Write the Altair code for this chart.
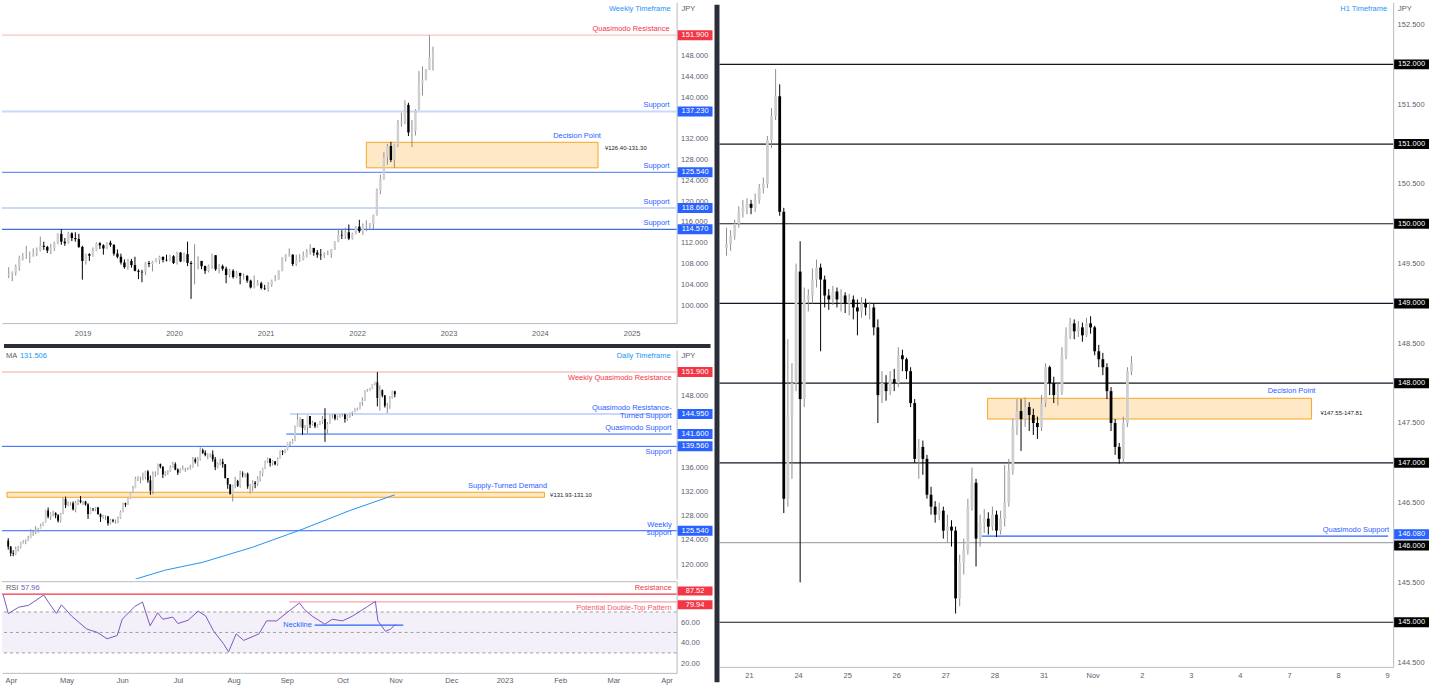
import json
import altair as alt
import pandas as pd

# ------------------------------------------------------------------ data
# Weekly panel: two-week USD/JPY candles starting 5 Mar 2018
wk_start = "2018-03-05"
wk_first_open = 105.8
wk_close = [106.0,106.3,107.4,109.0,109.4,109.4,109.5,110.0,110.5,111.4,
            111.2,110.5,111.0,112.0,113.7,112.2,111.9,113.8,112.9,112.7,
            111.2,108.5,109.8,109.5,110.5,111.9,111.5,110.9,112.0,111.6,
            109.9,109.3,108.2,107.3,108.5,107.7,106.6,106.4,106.3,108.1,
            107.9,108.3,108.7,109.3,108.7,108.6,109.4,108.1,110.1,108.4,
            109.8,108.1,107.9,107.9,108.5,107.5,106.6,107.6,109.6,106.9,
            107.5,107.0,105.8,106.6,105.4,106.2,105.6,105.6,104.7,103.4,
            103.8,104.2,103.3,103.2,103.9,104.7,104.9,106.6,109.0,109.6,
            109.7,107.9,108.6,108.9,109.5,110.2,111.0,110.1,109.7,109.6,
            109.8,109.9,110.7,112.2,113.5,113.4,114.0,112.8,113.7,115.1,
            114.2,115.2,115.4,115.6,117.3,122.0,124.3,128.5,130.6,127.9,
            130.9,135.0,135.2,138.5,133.2,133.5,137.5,142.6,143.3,145.3,
            147.6,148.2]
wk_high = [107.3,106.5,107.8,109.5,110.0,111.4,110.3,110.9,111.1,113.2,
           112.2,111.4,111.8,112.2,113.8,114.6,112.9,114.1,114.0,114.0,
           113.7,111.4,109.9,110.0,111.1,112.1,112.1,111.7,112.1,112.4,
           111.7,110.7,109.9,108.8,108.9,108.9,109.3,106.9,106.8,108.3,
           108.5,108.5,109.0,109.5,109.3,109.7,109.7,109.6,110.3,110.2,
           110.1,112.2,108.5,111.7,109.4,108.1,107.6,107.8,109.9,109.6,
           107.9,107.8,107.4,107.0,106.9,106.6,106.0,106.1,105.8,104.9,
           105.7,104.8,104.5,103.9,104.4,104.9,105.8,106.7,109.2,109.8,
           110.9,109.8,109.7,109.8,110.3,110.8,111.7,111.0,110.6,110.8,
           110.2,110.5,110.8,112.3,114.7,114.4,114.9,115.5,113.9,115.2,
           116.4,115.7,116.3,115.8,117.4,122.4,125.1,129.4,131.0,131.4,
           131.0,135.6,137.0,139.4,138.9,135.6,137.7,145.0,145.9,145.4,
           151.9,149.7]
wk_low = [105.2,104.6,105.7,106.6,108.6,108.9,108.1,109.3,109.4,110.3,
          110.6,110.0,109.8,110.4,111.7,111.6,111.4,111.8,112.3,112.2,
          111.0,104.9,107.8,108.5,109.3,110.4,110.8,109.7,110.8,111.2,
          109.5,109.0,107.8,107.0,106.8,107.2,106.5,105.0,104.4,105.8,
          107.3,106.5,108.2,107.9,108.2,108.4,108.4,107.9,107.8,108.3,
          108.3,107.5,101.2,104.0,106.9,106.9,106.0,106.3,107.0,106.6,
          106.1,106.6,104.2,105.3,105.1,105.2,104.0,104.9,104.3,103.2,
          103.2,103.7,103.0,102.9,102.6,103.5,104.6,104.9,106.5,108.4,
          109.3,107.5,107.5,108.3,108.6,109.2,109.7,109.5,109.1,108.7,
          109.1,109.6,109.1,110.6,112.1,112.7,112.7,112.5,112.6,113.6,
          113.9,113.5,114.2,114.4,114.6,117.2,121.3,124.1,127.0,127.5,
          126.4,130.4,134.3,134.8,132.5,130.4,132.6,137.5,140.3,143.2,
          145.2,145.1]
wk_year_ticks = [2019, 2020, 2021, 2022, 2023, 2024, 2025]
wk_price_ticks = [100, 104, 108, 112, 116, 120, 124, 128, 132, 140, 144, 148]

# Daily panel: bar index -3 (29 Mar 2022) .. 152 (1 Nov 2022)
d_first_open = 123.9
d_close = [122.9,121.8,121.7,
           122.5,122.8,123.6,123.8,123.9,124.3,125.4,125.4,125.6,125.9,126.4,126.9,128.9,127.9,128.4,128.5,128.1,127.2,128.4,130.8,129.8,
           130.1,130.1,129.1,130.2,130.6,130.3,130.4,129.9,128.3,129.2,129.1,129.4,128.3,127.8,127.9,127.9,126.8,127.3,127.1,127.1,127.6,128.7,
           130.1,129.9,130.9,131.9,132.6,134.2,134.4,134.4,134.4,135.4,133.9,132.2,135.0,135.1,136.6,136.2,134.9,135.2,135.4,136.1,136.6,135.7,
           135.2,135.7,135.9,135.9,136.0,136.1,137.4,137.0,137.4,138.9,138.5,138.1,138.2,138.2,137.4,136.1,136.7,137.0,136.6,134.3,133.2,
           131.6,133.1,133.8,133.0,135.0,134.9,135.0,132.9,133.0,133.5,133.3,134.2,135.1,135.9,137.0,137.5,136.8,137.1,136.6,137.5,138.8,138.7,139.0,
           140.2,140.2,140.5,142.8,144.0,144.1,142.6,142.8,144.6,143.2,143.5,142.9,143.2,143.7,144.1,142.4,143.3,144.7,144.8,144.2,144.5,144.7,
           144.8,144.1,144.6,145.1,145.3,145.7,145.8,146.9,147.2,148.7,148.9,149.2,149.9,150.2,147.6,148.9,148.0,146.3,146.3,147.5,148.7,
           148.2]
d_high = [124.3,123.0,122.3,
          122.9,123.0,123.7,124.0,124.1,124.7,125.8,125.6,126.3,126.0,126.7,127.0,129.0,129.4,128.6,128.9,128.6,128.3,128.5,131.0,131.2,
          130.4,130.3,130.4,130.5,130.8,131.3,130.5,130.5,130.1,129.4,129.3,129.5,129.5,128.4,128.2,128.1,128.0,127.5,127.5,127.4,127.9,128.9,
          130.2,130.2,131.0,132.0,133.0,134.5,134.6,134.5,135.2,135.5,135.6,134.7,135.4,135.4,136.7,136.7,136.2,135.4,135.6,136.4,137.0,136.9,
          135.9,135.9,136.4,136.0,136.1,136.5,137.8,137.7,137.8,139.4,139.2,138.9,138.4,138.4,138.9,137.8,136.9,137.5,137.5,136.6,134.3,
          133.3,133.2,134.5,134.0,135.5,135.4,135.1,135.2,133.3,133.9,133.8,134.6,135.5,136.0,137.2,137.7,137.6,137.3,137.1,137.7,138.9,138.9,139.1,
          140.2,140.4,140.8,143.0,145.0,144.4,144.0,143.1,144.7,144.6,143.8,143.6,143.3,143.8,144.6,145.9,143.6,144.8,144.9,144.9,144.7,144.9,
          145.0,145.0,144.8,145.2,145.4,145.9,146.0,146.9,147.7,148.9,149.1,149.3,149.9,150.3,151.9,149.7,149.0,148.1,146.8,147.9,148.8,
          148.8]
d_low = [122.4,121.3,121.3,
         121.5,122.1,122.6,123.4,123.3,123.8,124.3,124.7,125.0,125.2,125.9,126.3,126.9,127.6,127.3,127.9,127.6,126.9,126.9,128.3,129.3,
         129.6,129.7,128.9,128.6,129.8,130.1,129.8,129.7,127.5,128.4,128.8,128.8,128.2,127.0,127.5,127.3,126.4,126.6,126.9,126.7,126.8,127.5,
         128.6,129.5,129.8,130.8,131.8,132.6,133.8,133.4,133.9,134.1,133.5,131.5,131.6,134.5,134.8,135.9,134.3,134.6,134.8,135.3,136.0,135.6,
         134.8,135.1,135.6,135.3,135.6,135.7,136.0,136.7,136.2,137.2,138.3,137.9,137.4,137.7,137.0,135.6,135.9,136.4,136.0,134.2,132.5,
         131.6,130.4,132.6,132.8,132.7,134.4,134.4,132.5,131.7,132.1,132.6,133.0,133.7,134.6,135.8,136.8,136.2,136.4,136.4,136.3,137.6,138.1,138.4,
         138.9,139.6,140.0,140.4,142.8,142.8,141.5,142.2,141.7,142.6,143.0,142.6,142.7,143.1,143.3,140.3,141.7,143.3,144.2,143.9,143.9,144.3,
         144.5,143.5,143.8,144.3,144.6,145.2,145.5,145.7,146.3,147.1,148.6,148.8,149.1,149.7,146.2,145.5,147.7,146.0,145.1,145.8,147.5,
         147.7]
d_price_ticks = [120, 124, 128, 132, 136, 148]
ma_n = [48, 60, 75, 95, 115, 134, 152]
ma_v = [117.5, 119.0, 120.3, 122.8, 125.8, 128.9, 131.506]
month_ticks = [0, 22, 44, 66, 88, 109, 131, 152, 174, 195, 217, 238, 259]
month_labels = ["Apr", "May", "Jun", "Jul", "Aug", "Sep", "Oct", "Nov", "Dec", "2023", "Feb", "Mar", "Apr"]

# RSI(14) sub-panel
rsi_n = [-3, -1, 3, 7, 13, 15, 18, 20, 24, 30, 34, 38, 42, 44, 49, 52, 55, 58, 60, 64, 66, 70, 74,
         77, 80, 84, 86, 89, 92, 98, 101, 105, 109, 114, 116, 119, 124, 127, 131, 135, 141, 144,
         145, 148, 150, 152]
rsi_v = [86.6, 68.3, 74.6, 76.5, 86.6, 79.0, 68.6, 77.0, 66.0, 53.3, 50.2, 43.8, 47.0, 62.9, 75.5,
         79.7, 56.5, 69.2, 62.9, 65.0, 58.7, 61.9, 70.8, 66.0, 51.7, 39.0, 31.0, 48.6, 42.2, 48.6,
         61.3, 61.3, 69.2, 78.8, 72.4, 66.0, 58.1, 62.9, 61.3, 66.0, 75.5, 80.3, 61.3, 51.1, 53.3, 57.96]
rsi_ticks = [20, 40, 60]

# H1 panel: two-hour candles from 20 Oct 12:00 (trading-day index, 21 Oct = 0)
h1_first_open = 149.70
h1_close = [149.75,149.85,150.00,150.15,150.20,150.25,150.20,150.30,150.45,150.50,
            151.05,151.35,151.60,150.15,146.55,147.60,148.00,149.40,147.80,149.05,
            149.10,149.30,149.45,149.30,149.10,149.05,149.15,149.05,149.10,149.00,
            149.05,148.95,148.90,149.00,148.95,148.95,148.70,147.85,148.00,147.90,
            148.05,148.00,148.35,148.30,148.15,147.75,147.05,147.20,147.05,146.60,
            146.45,146.35,146.40,146.15,146.20,146.15,145.30,145.75,145.90,146.45,
            146.75,146.05,146.25,146.30,146.20,146.35,146.15,146.30,146.50,146.90,
            147.45,147.65,147.55,147.70,147.60,147.50,147.45,147.75,148.20,148.00,
            147.85,147.90,148.35,148.60,148.75,148.65,148.70,148.60,148.75,148.70,
            148.40,148.30,148.20,147.90,147.50,147.20,147.05,147.50,148.15,148.25]
h1_high = [149.95,149.92,150.05,150.22,150.30,150.32,150.30,150.38,150.50,150.58,
           151.10,151.45,151.94,151.75,150.20,148.55,148.25,149.50,149.78,149.20,
           149.18,149.44,149.55,149.50,149.35,149.18,149.22,149.20,149.18,149.14,
           149.12,149.10,149.05,149.08,149.06,149.02,149.00,148.80,148.15,148.10,
           148.15,148.18,148.45,148.42,148.32,148.20,147.80,147.30,147.28,147.10,
           146.70,146.52,146.50,146.45,146.35,146.28,146.20,145.85,146.05,146.55,
           146.94,146.80,146.35,146.42,146.38,146.45,146.40,146.40,146.97,147.05,
           147.55,147.80,147.80,147.82,147.76,147.68,147.58,147.85,148.25,148.22,
           148.08,148.00,148.45,148.70,148.82,148.80,148.78,148.76,148.82,148.84,
           148.72,148.48,148.38,148.25,147.95,147.55,147.25,147.58,148.20,148.34]
h1_low = [149.60,149.66,149.80,149.95,150.08,150.12,150.12,150.15,150.25,150.38,
          150.45,150.95,151.30,150.10,146.37,146.45,146.80,147.90,145.50,147.70,
          148.90,149.00,149.20,148.40,148.95,148.92,148.98,148.95,148.90,148.88,
          148.85,148.80,148.60,148.82,148.85,148.80,148.60,147.50,147.75,147.78,
          147.85,147.90,147.95,148.15,148.05,147.70,147.00,146.80,146.85,146.55,
          146.35,146.25,146.28,146.05,146.00,145.95,145.11,145.20,145.60,145.85,
          146.40,145.70,145.95,146.12,146.10,146.15,146.07,146.10,146.20,146.45,
          146.85,147.35,147.15,147.45,147.40,147.35,147.30,147.40,147.70,147.85,
          147.75,147.72,147.85,148.30,148.55,148.55,148.58,148.52,148.58,148.62,
          148.35,148.20,148.10,147.80,147.40,147.10,146.99,147.00,147.45,148.10]
h1_day_labels = ["21", "24", "25", "26", "27", "28", "31", "Nov", "2", "3", "4", "7", "8", "9"]
h1_price_ticks = [144.5, 145.5, 146.5, 147.5, 148.5, 149.5, 150.5, 151.5, 152.5]
h1_black_levels = [152.0, 151.0, 150.0, 149.0, 148.0, 147.0, 145.0]

# ------------------------------------------------------------------ style
FONT = "Liberation Sans Narrow, Liberation Sans, Arial, sans-serif"
FS = 7.5
W = 677          # left plot width
AX_W = 36        # price-axis column
WK_H = 322
D_H = 230
R_H = 92
H1_W = 676
H1_H = 667
UP_BODY = "#cfcfcf"
UP_WICK = "#8f8f8f"
DOWN = "#000000"
BLUE = "#2962ff"
TF_BLUE = "#2196f3"
RED = "#f23645"
PALE_RED = "#f7c3c6"
PALE_BLUE = "#c9d8fb"
SEP = "#2a2e39"
AXIS_LINE = "#b8bbc4"
LABEL = "#5d606b"
ZONE_FILL = "#ffe8c6"
ZONE_LINE = "#f5a623"


def ohlc(first_open, close, high, low, xs):
    opens = [first_open] + list(close[:-1])
    hi = [max(h, o, c) for h, o, c in zip(high, opens, close)]
    lo = [min(l, o, c) for l, o, c in zip(low, opens, close)]
    return pd.DataFrame({"x": xs, "open": opens, "close": close, "high": hi, "low": lo})


def price_axis(values, fmt):
    return alt.Axis(orient="right", values=values, tickCount=len(values) + 2, format=fmt,
                    title=None, ticks=False, grid=False, labelPadding=4,
                    minExtent=AX_W, maxExtent=AX_W, labelOverlap=False, labelBound=False,
                    domainColor=AXIS_LINE, labelColor=LABEL, labelFontSize=FS, labelFont=FONT)


def axis_layer(x0, xtype, xscale, xaxis, y0, yscale, yaxis):
    # invisible anchor layer that carries the panel's axes
    df = pd.DataFrame({"x": [x0], "y": [y0]})
    return alt.Chart(df).mark_point(size=0, opacity=0).encode(
        x=alt.X(f"x:{xtype}", scale=xscale, axis=xaxis),
        y=alt.Y("y:Q", scale=yscale, axis=yaxis))


def candle_layers(df, xtype, xscale, yscale, body):
    up = "datum.close >= datum.open"
    wick = alt.Chart(df).mark_rule(strokeWidth=1).encode(
        x=alt.X(f"x:{xtype}", scale=xscale),
        y=alt.Y("low:Q", scale=yscale),
        y2="high:Q",
        color=alt.condition(up, alt.value(UP_WICK), alt.value(DOWN)),
    )
    bodies = alt.Chart(df).mark_bar(size=body).encode(
        x=alt.X(f"x:{xtype}", scale=xscale),
        y=alt.Y("open:Q", scale=yscale),
        y2="close:Q",
        color=alt.condition(up, alt.value(UP_BODY), alt.value(DOWN)),
    )
    return [wick, bodies]


def hrule(price, color, yscale, width=1.0, x0=None, x1=None, xtype="Q", xscale=None, dash=None):
    df = pd.DataFrame({"p": [price]})
    enc = {"y": alt.Y("p:Q", scale=yscale)}
    if x0 is not None:
        df["a"] = [x0]
        df["b"] = [x1]
        enc["x"] = alt.X(f"a:{xtype}", scale=xscale)
        enc["x2"] = alt.X2("b")
    kw = {"color": color, "strokeWidth": width}
    if dash is not None:
        kw["strokeDash"] = dash
    return alt.Chart(df).mark_rule(**kw).encode(**enc)


def zone(lo, hi, x0, x1, xtype, xscale, yscale):
    df = pd.DataFrame({"lo": [lo], "hi": [hi], "a": [x0], "b": [x1]})
    return alt.Chart(df).mark_rect(fill=ZONE_FILL, stroke=ZONE_LINE, strokeWidth=1).encode(
        x=alt.X(f"a:{xtype}", scale=xscale), x2="b",
        y=alt.Y("lo:Q", scale=yscale), y2="hi:Q")


def note(text, price, yscale, xpx, color, align="right", dy=0, size=FS, baseline="middle"):
    df = pd.DataFrame({"p": [price], "t": [text]})
    return alt.Chart(df).mark_text(align=align, baseline=baseline, dy=dy, fontSize=size,
                                   color=color, font=FONT, lineBreak="\n",
                                   lineHeight=8).encode(
        x=alt.value(xpx), y=alt.Y("p:Q", scale=yscale), text="t:N")


def corner(text, xpx, ypx, color, align="left", size=FS):
    df = pd.DataFrame({"t": [text]})
    return alt.Chart(df).mark_text(align=align, baseline="middle", fontSize=size,
                                   color=color, font=FONT).encode(
        x=alt.value(xpx), y=alt.value(ypx), text="t:N")


def tag(price, text, bg, yscale, wpx, dy=0, thick=10):
    df = pd.DataFrame({"p": [price], "t": [text]})
    cx = wpx + AX_W / 2 + 0.5
    box = alt.Chart(df).mark_tick(orient="horizontal", size=AX_W - 1, thickness=thick,
                                  color=bg, opacity=1, yOffset=dy).encode(
        x=alt.value(cx), y=alt.Y("p:Q", scale=yscale))
    txt = alt.Chart(df).mark_text(align="center", baseline="middle", fontSize=FS,
                                  color="white", font=FONT, dy=dy).encode(
        x=alt.value(cx), y=alt.Y("p:Q", scale=yscale), text="t:N")
    return [box, txt]


# ------------------------------------------------------------------ weekly panel
wk_dates = (pd.date_range(wk_start, periods=len(wk_close), freq="14D")
            + pd.Timedelta(days=7)).strftime("%Y-%m-%d")
wk_df = ohlc(wk_first_open, wk_close, wk_high, wk_low, list(wk_dates))
wk_x = alt.Scale(type="utc", domain=[alt.DateTime(year=2018, month=3, date=5, utc=True),
                                     alt.DateTime(year=2025, month=6, date=10, utc=True)])
wk_y = alt.Scale(domain=[96.55, 158.24], nice=False, zero=False)
wk_xaxis = alt.Axis(values=[alt.DateTime(year=y, month=1, date=1, utc=True) for y in wk_year_ticks],
                    tickCount=len(wk_year_ticks) + 2, format="%Y", title=None, ticks=False,
                    grid=False, labelPadding=6, minExtent=21, maxExtent=21, labelOverlap=False,
                    domainColor=AXIS_LINE, labelColor=LABEL, labelFontSize=FS, labelFont=FONT)

wk_layers = [
    axis_layer(wk_dates[0], "T", wk_x, wk_xaxis, wk_price_ticks[0], wk_y,
               price_axis(wk_price_ticks, ".3f")),
    hrule(151.9, PALE_RED, wk_y, 1.2),
    hrule(137.23, PALE_BLUE, wk_y, 2),
    hrule(125.54, "#6f93f2", wk_y, 1.2),
    hrule(118.66, PALE_BLUE, wk_y, 2),
    hrule(114.57, "#3f6fe8", wk_y, 1.2),
    zone(126.40, 131.30, "2022-02-07", "2024-08-20", "T", wk_x, wk_y),
]
wk_layers += candle_layers(wk_df, "T", wk_x, wk_y, 2.4)
wk_layers += [
    note("Quasimodo Resistance", 151.9, wk_y, W - 7, RED, dy=-6),
    note("Support", 137.23, wk_y, W - 7, BLUE, dy=-6),
    note("Decision Point", 131.30, wk_y, 601, BLUE, dy=-6),
    note("\u00a5126.40-131.30", 130.3, wk_y, 605, "#222222", align="left", size=6),
    note("Support", 125.54, wk_y, W - 7, BLUE, dy=-6),
    note("Support", 118.66, wk_y, W - 7, BLUE, dy=-6),
    note("Support", 114.57, wk_y, W - 7, BLUE, dy=-6),
    corner("Weekly Timeframe", W - 6, 7, TF_BLUE, align="right"),
    corner("JPY", W + 5, 7, LABEL),
]
for p, bg in [(151.9, RED), (137.23, BLUE), (125.54, BLUE), (118.66, BLUE), (114.57, BLUE)]:
    wk_layers += tag(p, f"{p:.3f}", bg, wk_y, W)
wk_layers.append(
    alt.Chart(pd.DataFrame({"k": [0]})).mark_rule(color=SEP, strokeWidth=4).encode(
        x=alt.value(2), x2=alt.value(W + AX_W - 2), y=alt.value(WK_H + 23)))
weekly = alt.layer(*wk_layers).properties(width=W, height=WK_H)

# ------------------------------------------------------------------ daily panel
d_x = alt.Scale(domain=[-3.5, 263], nice=False, zero=False)
d_y = alt.Scale(domain=[117.49, 155.57], nice=False, zero=False)
d_df = ohlc(d_first_open, d_close, d_high, d_low, list(range(-3, 153)))
ma_df = pd.DataFrame({"n": ma_n, "v": ma_v})
d_xaxis = alt.Axis(labels=False, ticks=False, domain=False, grid=False, title=None,
                   minExtent=0, maxExtent=0)

d_layers = [
    axis_layer(0, "Q", d_x, d_xaxis, d_price_ticks[0], d_y, price_axis(d_price_ticks, ".3f")),
    hrule(151.9, PALE_RED, d_y, 1.5),
    hrule(144.95, "#b7cbf9", d_y, 1.5, 110, 263, "Q", d_x),
    hrule(141.6, BLUE, d_y, 1, 108.5, 263, "Q", d_x),
    hrule(139.56, BLUE, d_y, 1),
    hrule(125.54, BLUE, d_y, 1),
    zone(131.10, 131.93, -3.5, 212, "Q", d_x, d_y),
    alt.Chart(ma_df).mark_line(color=TF_BLUE, strokeWidth=1, clip=True).encode(
        x=alt.X("n:Q", scale=d_x), y=alt.Y("v:Q", scale=d_y)),
]
d_layers += candle_layers(d_df, "Q", d_x, d_y, 1.8)
d_layers += [
    note("Weekly Quasimodo Resistance", 151.9, d_y, W - 5, RED, dy=6),
    note("Quasimodo Resistance-\nTurned Support", 144.95, d_y, W - 5, BLUE, dy=-2,
         baseline="bottom"),
    note("Quasimodo Support", 141.6, d_y, W - 5, BLUE, dy=-6),
    note("Support", 139.56, d_y, W - 5, BLUE, dy=6),
    note("Supply-Turned Demand", 131.93, d_y, 547, BLUE, dy=-6),
    note("\u00a5131.93-131.10", 131.5, d_y, 550, "#222222", align="left", size=6),
    note("Weekly\nsupport", 125.54, d_y, W - 5, BLUE, dy=-2, baseline="bottom"),
    corner("MA", 4, 6, LABEL),
    corner("131.506", 18, 6, TF_BLUE),
    corner("Daily Timeframe", W - 6, 6, TF_BLUE, align="right"),
    corner("JPY", W + 5, 6, LABEL),
]
for p, bg in [(151.9, RED), (144.95, BLUE), (141.6, BLUE), (139.56, BLUE), (125.54, BLUE)]:
    d_layers += tag(p, f"{p:.3f}", bg, d_y, W)
daily = alt.layer(*d_layers).properties(width=W, height=D_H)

# ------------------------------------------------------------------ RSI panel
r_y = alt.Scale(domain=[10.5, 100.1], nice=False, zero=False)
month_expr = f"{json.dumps(month_labels)}[indexof({json.dumps(month_ticks)}, datum.value)]"
r_xaxis = alt.Axis(values=month_ticks, tickCount=len(month_ticks) + 2, labelExpr=month_expr,
                   title=None, ticks=False, grid=False, labelPadding=4, minExtent=16,
                   maxExtent=16, labelOverlap=False, domainColor=AXIS_LINE, labelColor=LABEL,
                   labelFontSize=FS, labelFont=FONT)
rsi_df = pd.DataFrame({"n": rsi_n, "v": rsi_v})
r_layers = [
    axis_layer(0, "Q", d_x, r_xaxis, rsi_ticks[0], r_y, price_axis(rsi_ticks, ".2f")),
    alt.Chart(pd.DataFrame({"lo": [30], "hi": [70]})).mark_rect(fill="#7e57c2", opacity=0.09).encode(
        x=alt.value(0), x2=alt.value(W), y=alt.Y("lo:Q", scale=r_y), y2="hi:Q"),
    hrule(70, "#9e9e9e", r_y, 1, dash=[3, 3]),
    hrule(50, "#9e9e9e", r_y, 1, dash=[3, 3]),
    hrule(30, "#9e9e9e", r_y, 1, dash=[3, 3]),
    hrule(87.52, RED, r_y, 1.2),
    hrule(79.94, "#f6a3aa", r_y, 1.2, 110, 263, "Q", d_x),
    hrule(57.1, BLUE, r_y, 1.2, 120, 155, "Q", d_x),
    alt.Chart(rsi_df).mark_line(color="#7e57c2", strokeWidth=1).encode(
        x=alt.X("n:Q", scale=d_x), y=alt.Y("v:Q", scale=r_y)),
    note("Resistance", 87.52, r_y, W - 5, RED, dy=-6),
    note("Potential Double-Top Pattern", 79.94, r_y, W - 5, "#f25c6a", dy=6),
    note("Neckline", 57.1, r_y, 311, BLUE, dy=0),
    corner("RSI", 4, 7, LABEL),
    corner("57.96", 19, 7, "#7e57c2"),
    alt.Chart(pd.DataFrame({"k": [0]})).mark_rule(color=AXIS_LINE, strokeWidth=1).encode(
        x=alt.value(0), x2=alt.value(W), y=alt.value(0.5)),
]
r_layers += tag(87.52, "87.52", RED, r_y, W, dy=-3, thick=9)
r_layers += tag(79.94, "79.94", RED, r_y, W, dy=3, thick=9)
rsi = alt.layer(*r_layers).properties(width=W, height=R_H)

# ------------------------------------------------------------------ H1 panel
h_x = alt.Scale(domain=[-0.5, 13.02], nice=False, zero=False)
h_y = alt.Scale(domain=[144.44, 152.78], nice=False, zero=False)
h1_x = [-0.5 + (i + 0.5) / 12 for i in range(len(h1_close))]
h_df = ohlc(h1_first_open, h1_close, h1_high, h1_low, h1_x)
day_expr = f"{json.dumps(h1_day_labels)}[datum.value]"
h_xaxis = alt.Axis(values=list(range(len(h1_day_labels))), tickCount=len(h1_day_labels) + 2,
                   labelExpr=day_expr, title=None, ticks=False, grid=False, labelPadding=5,
                   minExtent=18, maxExtent=18, labelOverlap=False, domainColor=AXIS_LINE,
                   labelColor=LABEL, labelFontSize=FS, labelFont=FONT)

h_layers = [axis_layer(0, "Q", h_x, h_xaxis, h1_price_ticks[0], h_y,
                       price_axis(h1_price_ticks, ".3f"))]
h_layers += [hrule(p, "#131722", h_y, 1.2) for p in h1_black_levels]
h_layers += [
    hrule(146.0, "#a8a8a8", h_y, 1.2),
    hrule(146.08, BLUE, h_y, 1.2, 4.74, 13.02, "Q", h_x),
    zone(147.55, 147.81, 4.86, 11.46, "Q", h_x, h_y),
]
h_layers += candle_layers(h_df, "Q", h_x, h_y, 2.8)
h_layers += [
    note("Decision Point", 147.81, h_y, 598, BLUE, dy=-7),
    note("\u00a5147.55-147.81", 147.63, h_y, 603, "#222222", align="left", size=6),
    note("Quasimodo Support", 146.08, h_y, 672, BLUE, dy=-6),
    corner("H1 Timeframe", H1_W - 6, 7, TF_BLUE, align="right"),
    corner("JPY", H1_W + 5, 7, LABEL),
]
for p in h1_black_levels[:6] + [145.0]:
    h_layers += tag(p, f"{p:.3f}", "#000000", h_y, H1_W)
h_layers += tag(146.0, "146.000", "#000000", h_y, H1_W, dy=3)
h_layers += tag(146.08, "146.080", BLUE, h_y, H1_W, dy=-2)
h_layers.append(
    alt.Chart(pd.DataFrame({"k": [0]})).mark_rule(color=SEP, strokeWidth=5).encode(
        x=alt.value(-2.5), y=alt.value(2.5), y2=alt.value(H1_H + 18 - 2.5)))
h1 = alt.layer(*h_layers).properties(width=H1_W, height=H1_H)

# ------------------------------------------------------------------ assemble
left = alt.vconcat(weekly, alt.vconcat(daily, rsi, spacing=0), spacing=0)
chart = alt.hconcat(left, h1, spacing=0).properties(padding=0, background="white")
chart = chart.configure_view(stroke="transparent").configure_axis(
    labelFont=FONT, labelOverlap=False, labelBound=False)

chart.save("out.html", embed_options={"renderer": "svg", "actions": False})
